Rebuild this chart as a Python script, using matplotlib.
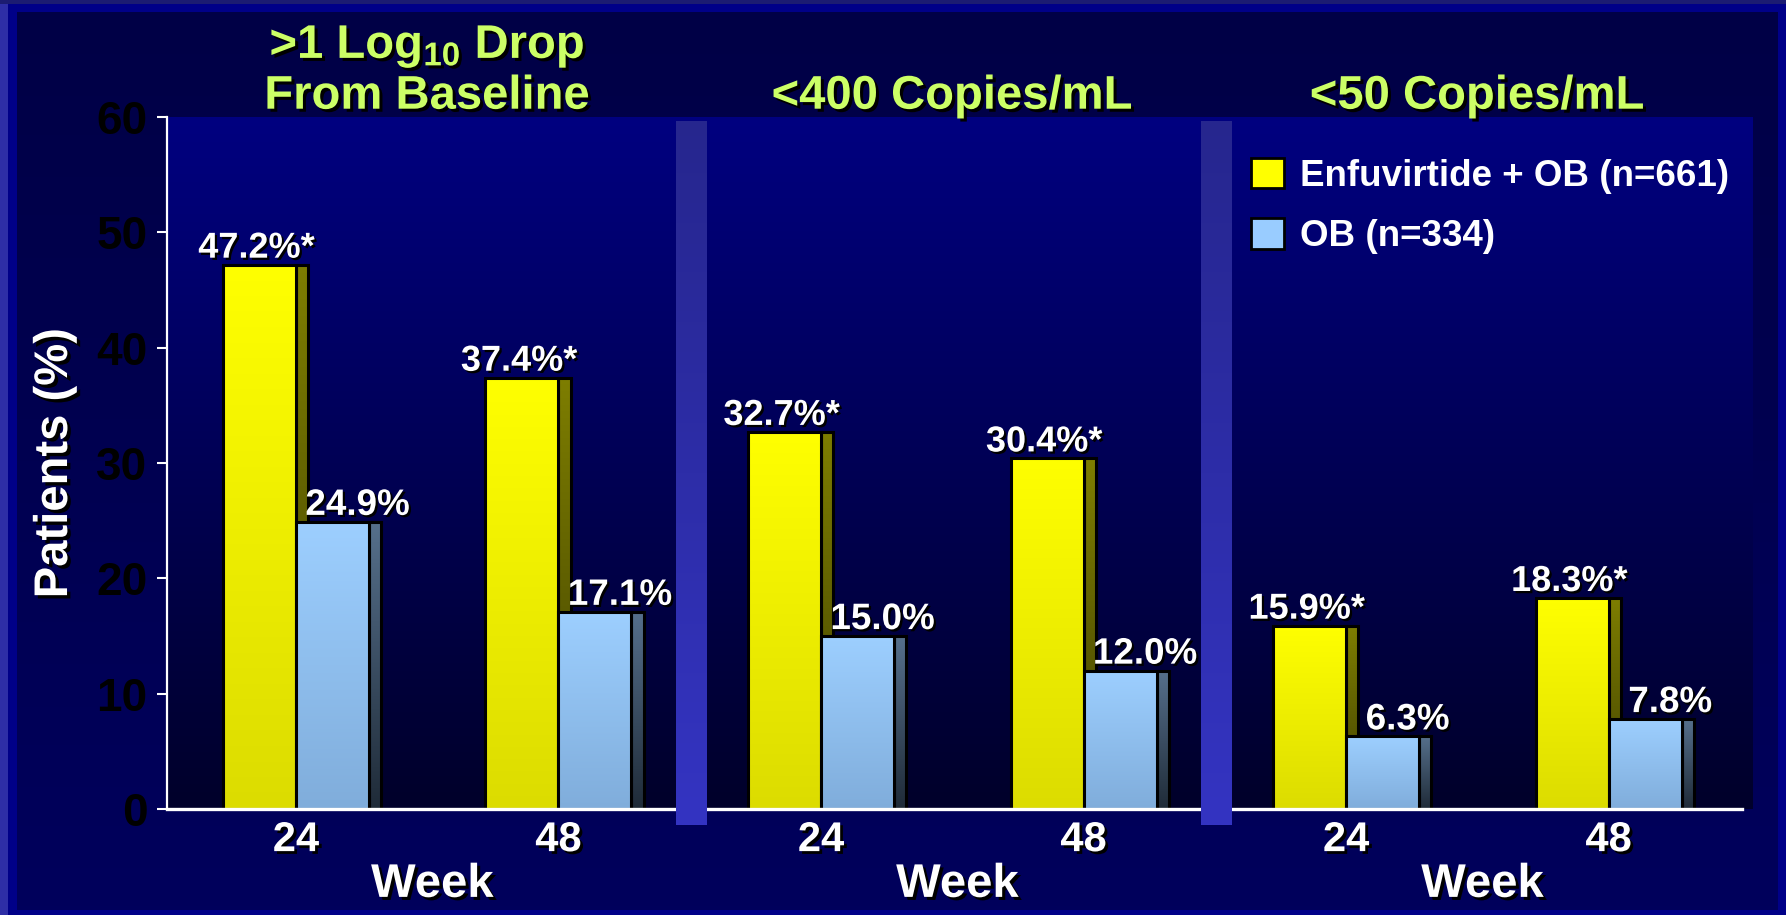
import numpy as np
import matplotlib
matplotlib.use("Agg")
import matplotlib.pyplot as plt
import matplotlib.patheffects as pe
import matplotlib.transforms as mtransforms
from matplotlib.colors import to_rgb
from matplotlib.patches import Patch, Rectangle

# ---- data ----
panel_titles = [[r">1 Log$_{10}$ Drop", "From Baseline"], ["<400 Copies/mL"], ["<50 Copies/mL"]]
weeks = ["24", "48"]
enfuvirtide_ob = [[47.2, 37.4], [32.7, 30.4], [15.9, 18.3]]
ob_alone = [[24.9, 17.1], [15.0, 12.0], [6.3, 7.8]]
enfuvirtide_significant = [[True, True], [True, True], [True, True]]
series_names = ["Enfuvirtide + OB (n=661)", "OB (n=334)"]
y_ticks = [0, 10, 20, 30, 40, 50, 60]
x_title = "Week"
y_title = "Patients (%)"

# ---- style ----
plt.rcParams["font.family"] = ["Liberation Sans", "DejaVu Sans"]
plt.rcParams["font.weight"] = "bold"
plt.rcParams["mathtext.default"] = "regular"

W, H = 1786, 915
fig = plt.figure(figsize=(W / 100, H / 100), dpi=100)
fig.patch.set_facecolor("#000088")


def vgrad(top, bottom, n=256):
    t = np.linspace(0, 1, n)[:, None, None]
    a = np.array(to_rgb(top))[None, None, :]
    b = np.array(to_rgb(bottom))[None, None, :]
    return a + (b - a) * t


def shadow(d=2.2):
    return [pe.SimplePatchShadow(offset=(d, -d), shadow_rgbFace="black", alpha=1.0), pe.Normal()]


# slide frame
bg = fig.add_axes([0, 0, 1, 1])
bg.set_axis_off()
bg.set_xlim(0, W)
bg.set_ylim(H, 0)
bg.add_patch(Rectangle((0, 0), 8, H, facecolor="#2E2EA6", edgecolor="none"))
bg.add_patch(Rectangle((0, 0), W, 4, facecolor="#1C1C72", edgecolor="none"))
bg.imshow(vgrad("#000046", "#00005C"), extent=(17, 1778, 910, 12), aspect="auto")
bg.set_xlim(0, W)
bg.set_ylim(H, 0)

# plotting area
ax = fig.add_axes([167 / W, 1 - 809 / H, (1753 - 167) / W, (809 - 117) / H])
ax.set_autoscale_on(False)
x_lo, x_hi = -0.491, 5.55
ax.set_xlim(x_lo, x_hi)
ax.set_ylim(0, 60)
ax.patch.set_visible(False)
ax.imshow(vgrad("#000080", "#00002A"), extent=(0, 1, 0, 1), transform=ax.transAxes,
          aspect="auto", zorder=0)

front_w = 0.278
side_w = 0.046
z = [3.0]


def grad_bar(xc, width, height, top, bottom):
    base = z[0]
    rect = ax.bar(xc, height, width=width, color=bottom, edgecolor="none", zorder=base)[0]
    img = ax.imshow(vgrad(top, bottom), extent=(xc - width / 2, xc + width / 2, 0, height),
                    aspect="auto", zorder=base + 0.01)
    img.set_clip_path(rect)
    ax.bar(xc, height, width=width, facecolor="none", edgecolor="black", linewidth=2.2,
           zorder=base + 0.02)
    z[0] += 0.05


positions = []
for p in range(len(panel_titles)):
    for w in range(len(weeks)):
        x0 = 2 * p + w
        positions.append(x0)
        ye = enfuvirtide_ob[p][w]
        yo = ob_alone[p][w]
        # enfuvirtide + OB: side face then front face
        grad_bar(x0 + side_w / 2, side_w, ye, "#7E7E00", "#3E3E00")
        grad_bar(x0 - front_w / 2, front_w, ye, "#FFFF00", "#DCDC00")
        # OB alone sits in front of the yellow side face
        grad_bar(x0 + front_w + side_w / 2, side_w, yo, "#56708C", "#1F2B38")
        grad_bar(x0 + front_w / 2, front_w, yo, "#9DCFFF", "#80ADDB")

        lab_e = f"{ye:.1f}%" + ("*" if enfuvirtide_significant[p][w] else "")
        ax.annotate(lab_e, xy=(x0 - front_w / 2, ye), xytext=(-2, 5), textcoords="offset points",
                    ha="center", va="baseline", fontsize=26, color="white",
                    path_effects=shadow(1.6), zorder=8)
        ax.annotate(f"{yo:.1f}%", xy=(x0 + front_w / 2, yo), xytext=(18, 5),
                    textcoords="offset points", ha="center", va="baseline", fontsize=26.5,
                    color="white", path_effects=shadow(1.6), zorder=8)

# separators between the three endpoints
for p in range(1, len(panel_titles)):
    c = 2 * p - 0.5 + 0.007
    sep = ax.imshow(vgrad("#26268E", "#3434C2"), extent=(c - 0.059, c + 0.059, -1.39, 59.65),
                    aspect="auto", zorder=6)
    sep.set_clip_on(False)

ax.set_xlim(x_lo, x_hi)
ax.set_ylim(0, 60)

# axes
for s in ["top", "right"]:
    ax.spines[s].set_visible(False)
ax.spines["left"].set_color("white")
ax.spines["left"].set_linewidth(1.6)
ax.spines["bottom"].set_color("white")
ax.spines["bottom"].set_linewidth(2.4)
ax.spines["bottom"].set_bounds(x_lo, 5.509)
ax.spines["bottom"].set_zorder(5)
ax.spines["left"].set_zorder(5)

ax.set_yticks(y_ticks)
ax.tick_params(axis="y", length=7.2, width=1.5, color="white", labelcolor="black",
               labelsize=33, pad=7)
ax.set_xticks(positions)
ax.set_xticklabels(weeks * len(panel_titles))
ax.tick_params(axis="x", length=0, pad=8, labelsize=30, labelcolor="white")
for t in ax.get_xticklabels():
    t.set_path_effects(shadow(2.0))

trans = mtransforms.blended_transform_factory(ax.transData, ax.transAxes)
for p, title in enumerate(panel_titles):
    xc = 2 * p + 0.5
    ax.text(xc + 0.02, -0.127, x_title, transform=trans, ha="center", va="baseline",
            fontsize=34, color="white", path_effects=shadow(2.2), clip_on=False)
    if len(title) == 2:
        ax.text(xc, 1.0853, title[0], transform=trans, ha="center", va="baseline",
                fontsize=34, color="#CCFF66", path_effects=shadow(2.2), clip_on=False)
        ax.text(xc, 1.012, title[1], transform=trans, ha="center", va="baseline",
                fontsize=34, color="#CCFF66", path_effects=shadow(2.2), clip_on=False)
    else:
        ax.text(xc, 1.012, title[0], transform=trans, ha="center", va="baseline",
                fontsize=34, color="#CCFF66", path_effects=shadow(2.2), clip_on=False)

ax.text(-0.0706, 0.5, y_title, transform=ax.transAxes, rotation=90, ha="center", va="center",
        fontsize=34, color="white", path_effects=shadow(2.4), clip_on=False)

handles = [Patch(facecolor="#FFFF00", edgecolor="black", linewidth=2.0),
           Patch(facecolor="#99CCFF", edgecolor="black", linewidth=2.0)]
leg = ax.legend(handles, series_names, loc="upper left", bbox_to_anchor=(0.6835, 0.941),
                frameon=False, fontsize=26.5, labelcolor="white", handlelength=0.9,
                handleheight=0.9, handletextpad=0.42, labelspacing=0.66, borderpad=0,
                borderaxespad=0)
leg.set_zorder(9)

fig.savefig("out.png", dpi=100, facecolor=fig.get_facecolor())
